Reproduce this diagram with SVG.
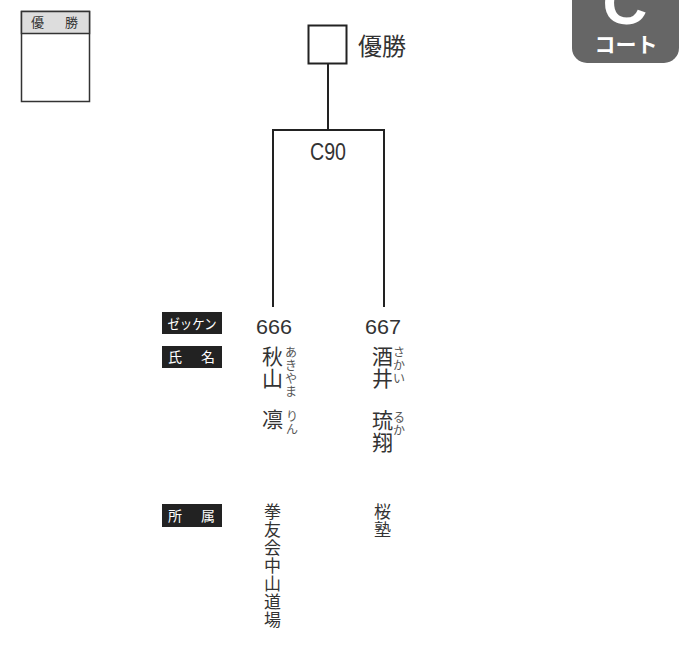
<svg xmlns="http://www.w3.org/2000/svg" width="699" height="652" viewBox="0 0 699 652">
<style>
.ln{stroke:#222;stroke-width:2;fill:none}
.jp{font-family:"Noto Sans CJK JP","Noto Sans CJK SC",sans-serif;fill:#333}
.num{font-family:"Liberation Sans",Arial,sans-serif;fill:#333}
.lbl{font-family:"Noto Sans CJK JP",sans-serif;fill:#fff;font-size:14px}
.fu{font-family:"Noto Sans CJK JP",sans-serif;fill:#555;font-size:12px}
</style>
<rect width="699" height="652" fill="#fff"/>
<g id="winner-box">
<rect x="21.5" y="11.5" width="68" height="90" fill="#fff" stroke="#333" stroke-width="1.5"/>
<rect x="21.5" y="11.5" width="68" height="22" fill="#ddd" stroke="#333" stroke-width="1.5"/>
<text class="jp" x="31" y="27" font-size="13">優</text>
<text class="jp" x="65" y="27" font-size="13">勝</text>
</g>
<g id="court-badge">
<rect x="572" y="-20" width="107" height="83" rx="15" fill="#666"/>
<text x="625" y="24" text-anchor="middle" font-family="Liberation Sans,Arial,sans-serif" font-weight="bold" font-size="62" fill="#fff">C</text>
<text x="626" y="52" text-anchor="middle" font-family="Noto Sans CJK JP,sans-serif" font-weight="bold" font-size="21" fill="#fff">コート</text>
</g>
<g id="connectors">
<line class="ln" x1="328" y1="64" x2="328" y2="130"/>
<polyline class="ln" points="273,307 273,130 384,130 384,307"/>
</g>
<g id="final">
<rect x="308.5" y="25.5" width="38" height="38" fill="#fff" stroke="#222" stroke-width="2"/>
<text class="jp" x="358" y="55" font-size="24">優勝</text>
</g>
<g id="match-C90">
<text class="num" x="328" y="160" text-anchor="middle" font-size="23" textLength="36" lengthAdjust="spacingAndGlyphs">C90</text>
</g>
<g id="labels">
<rect x="162" y="312" width="60" height="22" fill="#222"/>
<text class="lbl" x="192" y="329" text-anchor="middle" textLength="49" lengthAdjust="spacingAndGlyphs">ゼッケン</text>
<rect x="162" y="346" width="60" height="22" fill="#222"/>
<text class="lbl" x="168" y="362">氏</text>
<text class="lbl" x="201" y="362">名</text>
<rect x="162" y="504" width="60" height="23" fill="#222"/>
<text class="lbl" x="168" y="521">所</text>
<text class="lbl" x="201" y="521">属</text>
</g>
<g id="player-666">
<text class="num" x="274" y="334" text-anchor="middle" font-size="21" textLength="36" lengthAdjust="spacingAndGlyphs">666</text>
<text class="jp" x="262" y="364" font-size="21">秋</text>
<text class="jp" x="262" y="386" font-size="21">山</text>
<text class="jp" x="262" y="427" font-size="21">凛</text>
<text class="fu" x="285" y="357">あ</text>
<text class="fu" x="285" y="370">き</text>
<text class="fu" x="285" y="383">や</text>
<text class="fu" x="285" y="396">ま</text>
<text class="fu" x="286" y="421">り</text>
<text class="fu" x="286" y="434">ん</text>
<text class="jp" x="264" y="518" font-size="17">拳</text>
<text class="jp" x="264" y="536" font-size="17">友</text>
<text class="jp" x="264" y="554" font-size="17">会</text>
<text class="jp" x="264" y="572" font-size="17">中</text>
<text class="jp" x="264" y="590" font-size="17">山</text>
<text class="jp" x="264" y="608" font-size="17">道</text>
<text class="jp" x="264" y="626" font-size="17">場</text>
</g>
<g id="player-667">
<text class="num" x="383" y="334" text-anchor="middle" font-size="21" textLength="36" lengthAdjust="spacingAndGlyphs">667</text>
<text class="jp" x="372" y="364" font-size="21">酒</text>
<text class="jp" x="372" y="386" font-size="21">井</text>
<text class="jp" x="372" y="428" font-size="21">琉</text>
<text class="jp" x="372" y="450" font-size="21">翔</text>
<text class="fu" x="393" y="357">さ</text>
<text class="fu" x="393" y="370">か</text>
<text class="fu" x="393" y="383">い</text>
<text class="fu" x="393" y="422">る</text>
<text class="fu" x="393" y="435">か</text>
<text class="jp" x="374" y="518" font-size="17">桜</text>
<text class="jp" x="374" y="536" font-size="17">塾</text>
</g>
</svg>
